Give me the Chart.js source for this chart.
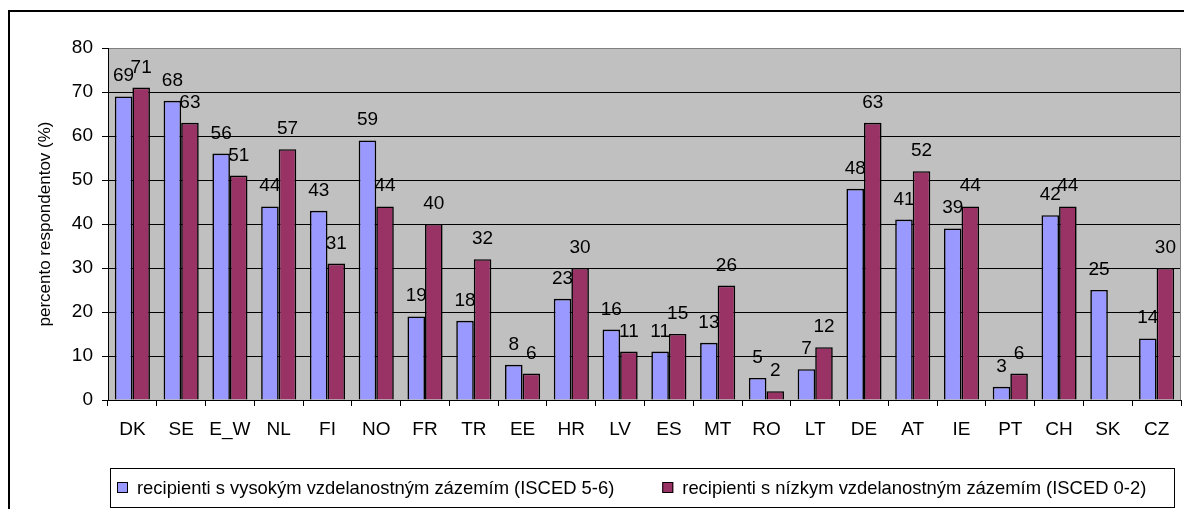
<!DOCTYPE html>
<html>
<head>
<meta charset="utf-8">
<script src="https://cdn.jsdelivr.net/npm/chart.js@4.4.1/dist/chart.umd.min.js"></script>
<style>
  html, body { margin: 0; padding: 0; background: #fff; }
  #wrap { width: 1184px; height: 509px; }
</style>
</head>
<body>
<div id="wrap"><canvas id="chart"></canvas></div>
<script>
const countries = ["DK", "SE", "E_W", "NL", "FI", "NO", "FR", "TR", "EE", "HR", "LV",
  "ES", "MT", "RO", "LT", "DE", "AT", "IE", "PT", "CH", "SK", "CZ"];
const highEdu = [69, 68, 56, 44, 43, 59, 19, 18, 8, 23, 16, 11, 13, 5, 7, 48, 41, 39, 3, 42, 25, 14];
const lowEdu = [71, 63, 51, 57, 31, 44, 40, 32, 6, 30, 11, 15, 26, 2, 12, 63, 52, 44, 6, 44, null, 30];
const seriesNames = [
  "recipienti s vysokým vzdelanostným zázemím (ISCED 5-6)",
  "recipienti s nízkym vzdelanostným zázemím (ISCED 0-2)"
];
const yTicks = [0, 10, 20, 30, 40, 50, 60, 70, 80];

const FONT = "'Liberation Sans', Arial, sans-serif";

// white page, grey plot area and the outer frame
const backdrop = {
  id: "backdrop",
  beforeDraw(chart) {
    const { ctx, chartArea: a } = chart;
    ctx.save();
    ctx.fillStyle = "#fff";
    ctx.fillRect(0, 0, chart.width, chart.height);
    ctx.fillStyle = "#C0C0C0";
    ctx.fillRect(a.left, a.top, a.right - a.left, a.bottom - a.top);
    ctx.strokeStyle = "#000";
    ctx.lineWidth = 2;
    ctx.strokeRect(9, 11, chart.width + 20, chart.height + 20);
    ctx.restore();
  },
  beforeDatasetsDraw(chart) {
    const { ctx, chartArea: a } = chart;
    ctx.save();
    ctx.strokeStyle = "#808080";
    ctx.lineWidth = 1;
    ctx.beginPath();
    ctx.moveTo(a.right - 0.5, a.top);
    ctx.lineTo(a.right - 0.5, a.bottom);
    ctx.stroke();
    ctx.restore();
  }
};

// boxed legend under the axis
const boxLegend = {
  id: "boxLegend",
  afterDraw(chart) {
    const { ctx, chartArea: a } = chart;
    const left = a.left + 2, right = a.right - 7;
    const top = chart.height - 41, bottom = chart.height - 2;
    const midY = (top + bottom) / 2;
    const sw = 11, textGap = 9, itemGap = 48;
    ctx.save();
    ctx.strokeStyle = "#000";
    ctx.lineWidth = 1;
    ctx.strokeRect(left + 0.5, top + 0.5, right - left, bottom - top);
    ctx.font = "18.4px " + FONT;
    ctx.textBaseline = "middle";
    ctx.textAlign = "left";
    let x = left + 7;
    chart.data.datasets.forEach(ds => {
      const w = ctx.measureText(ds.label).width;
      const by = Math.round(midY - sw / 2);
      ctx.fillStyle = ds.backgroundColor;
      ctx.fillRect(x, by, sw, sw);
      ctx.strokeStyle = "#000";
      ctx.strokeRect(x + 0.5, by + 0.5, sw - 1, sw - 1);
      ctx.fillStyle = "#000";
      ctx.fillText(ds.label, x + sw + textGap, midY + 1);
      x += sw + textGap + w + itemGap;
    });
    ctx.restore();
  }
};

// value labels above each bar
const valueLabels = {
  id: "valueLabels",
  afterDatasetsDraw(chart) {
    const { ctx } = chart;
    ctx.save();
    ctx.font = "19px " + FONT;
    ctx.fillStyle = "#000";
    ctx.textAlign = "center";
    ctx.textBaseline = "alphabetic";
    chart.data.datasets.forEach((ds, i) => {
      chart.getDatasetMeta(i).data.forEach((bar, j) => {
        const v = ds.data[j];
        if (v === null || v === undefined) return;
        ctx.fillText(String(v), bar.x, bar.y - 15);
      });
    });
    ctx.restore();
  }
};

new Chart(document.getElementById("chart"), {
  type: "bar",
  data: {
    labels: countries,
    datasets: [
      {
        label: seriesNames[0],
        data: highEdu,
        backgroundColor: "#9999FF",
        borderColor: "#000",
        borderWidth: 1.6,
        categoryPercentage: 0.72,
        barPercentage: 1.0
      },
      {
        label: seriesNames[1],
        data: lowEdu,
        backgroundColor: "#993366",
        borderColor: "#000",
        borderWidth: 1.6,
        categoryPercentage: 0.72,
        barPercentage: 1.0
      }
    ]
  },
  options: {
    responsive: true,
    maintainAspectRatio: false,
    animation: false,
    layout: { padding: { top: 48, right: 3, bottom: 41, left: 0 } },
    plugins: {
      tooltip: { enabled: false },
      legend: { display: false }
    },
    scales: {
      x: {
        afterFit(scale) { scale.height = 68; },
        grid: {
          offset: true,
          drawOnChartArea: false,
          drawTicks: true,
          tickLength: 6,
          tickColor: "#000"
        },
        border: { color: "#000", width: 1 },
        ticks: {
          color: "#000",
          font: { family: FONT, size: 19 },
          padding: 12,
          maxRotation: 0,
          autoSkip: false
        }
      },
      y: {
        min: 0,
        max: 80,
        afterFit(scale) { scale.width = 108; },
        afterBuildTicks(scale) { scale.ticks = yTicks.map(v => ({ value: v })); },
        grid: {
          color: ctx => (ctx.tick && ctx.tick.value === 80 ? "#808080" : "#000"),
          tickColor: "#000",
          tickLength: 6
        },
        border: { color: "#000", width: 1 },
        ticks: {
          color: "#000",
          font: { family: FONT, size: 19 },
          padding: 9
        },
        title: {
          display: true,
          text: "percento respondentov (%)",
          color: "#000",
          font: { family: FONT, size: 17 },
          padding: { top: 35, bottom: 0 }
        }
      }
    }
  },
  plugins: [backdrop, boxLegend, valueLabels]
});
</script>
</body>
</html>
